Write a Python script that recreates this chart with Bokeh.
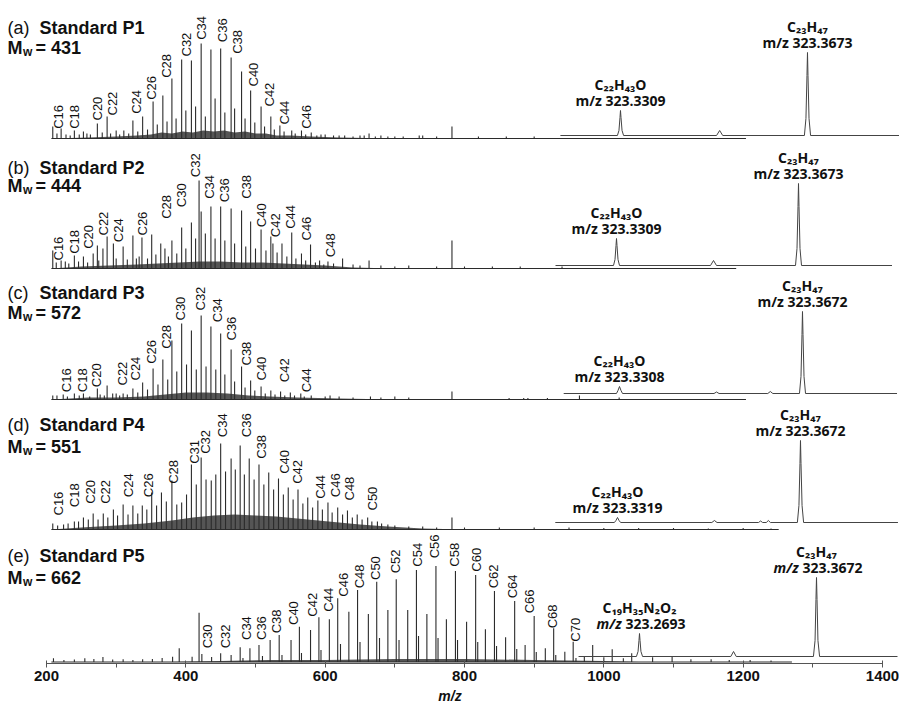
import numpy as np
from bokeh.plotting import figure
from bokeh.models import Range1d, FixedTicker, ColumnDataSource
from bokeh.core.properties import value
from bokeh.embed import file_html
from bokeh.resources import INLINE

# ---------------- data ----------------
panel_letters = ["(a)", "(b)", "(c)", "(d)", "(e)"]
panel_names = ["Standard P1", "Standard P2", "Standard P3", "Standard P4", "Standard P5"]
mw_values = ["431", "444", "572", "551", "662"]

tick_values = [200, 400, 600, 800, 1000, 1200, 1400]
minor_tick_values = [300, 500, 700, 900, 1100, 1300]

# main spectra: m/z and intensity (a.u.)
a_mz = [209, 215, 221, 228, 234, 240, 247, 253, 258, 263,
        273, 280, 287, 292, 300, 305, 311, 318, 324, 331,
        338, 345, 353, 359, 367, 373, 380, 386, 394, 400,
        408, 414, 422, 428, 436, 442, 450, 456, 465, 470,
        480, 485, 493, 499, 508, 513, 522, 527, 535, 541,
        552, 557, 566, 572, 580, 588, 594, 600, 612, 620,
        628, 640, 650, 656, 663, 672, 680, 690, 700, 712,
        735, 740, 760, 782, 820, 860, 900]
a_int = [12, 5, 10, 4, 3, 8, 4, 7, 5, 4,
         15, 6, 22, 5, 8, 4, 8, 5, 18, 7,
         22, 9, 37, 14, 43, 17, 60, 20, 79, 28,
         78, 32, 95, 22, 89, 40, 90, 26, 81, 30,
         67, 20, 48, 16, 32, 12, 22, 9, 13, 7,
         8, 5, 8, 4, 6, 3, 4, 4, 3, 3,
         3, 2, 3, 3, 5, 2, 3, 2, 2, 2,
         3, 3, 2, 12, 2, 2, 2]

b_mz = [209, 214, 221, 227, 232, 240, 246, 253, 259, 267,
        273, 275, 281, 287, 296, 300, 310, 316, 324, 329,
        333, 337, 345, 351, 357, 364, 370, 375, 380, 387,
        394, 400, 408, 414, 419, 422, 428, 436, 442, 450,
        456, 465, 470, 480, 486, 493, 500, 508, 515, 522,
        525, 531, 538, 545, 552, 558, 566, 572, 579, 586,
        592, 598, 604, 612, 625, 640, 650, 663, 680, 700,
        720, 760, 782, 800, 840, 880, 940]
b_int = [18, 6, 8, 7, 5, 13, 7, 12, 6, 15,
         23, 8, 20, 32, 25, 10, 22, 9, 33, 10,
         12, 31, 10, 34, 14, 25, 20, 12, 28, 15,
         41, 20, 46, 30, 88, 57, 35, 62, 30, 62,
         28, 60, 25, 58, 22, 47, 20, 39, 18, 32,
         25, 16, 25, 12, 36, 10, 15, 8, 24, 6,
         8, 4, 7, 5, 10, 4, 3, 8, 3, 2,
         3, 2, 28, 2, 2, 2, 2]

c_mz = [209, 215, 224, 230, 240, 247, 253, 262, 273, 277,
        283, 287, 295, 300, 305, 310, 316, 324, 331, 338,
        345, 353, 360, 367, 374, 380, 387, 394, 401, 408,
        415, 422, 429, 436, 443, 450, 456, 465, 470, 480,
        485, 493, 499, 508, 514, 522, 528, 536, 542, 550,
        556, 565, 570, 580, 600, 607, 620, 640, 665, 680,
        700, 720, 782, 864, 885, 891, 919, 965, 1022]
c_int = [4, 4, 5, 3, 6, 4, 6, 3, 11, 5,
         4, 14, 6, 6, 4, 6, 5, 11, 7, 17,
         10, 31, 15, 40, 20, 59, 28, 76, 35, 69,
         30, 84, 33, 73, 30, 66, 25, 50, 18, 33,
         12, 19, 9, 13, 6, 9, 5, 8, 4, 7,
         4, 6, 3, 4, 3, 4, 3, 2, 3, 2,
         3, 2, 8, 1.5, 1.5, 1.5, 1.5, 4, 2]

d_mz = [209, 216, 224.5, 231, 240, 246, 253, 260, 267, 274,
        281.5, 288, 296, 302, 310, 317, 324, 331, 337.5, 344,
        351, 358, 365, 372, 380, 387, 394, 401, 408, 415,
        422, 429, 436.5, 443, 450, 457, 465, 471, 478, 484,
        491, 498, 505, 512, 519, 526, 533, 540, 547, 554,
        561, 568, 575, 582, 589.5, 596, 604, 610, 618, 625,
        632, 639, 646, 653, 661, 667, 675, 681, 690, 700,
        720, 740, 760, 782, 800, 850, 900, 950, 1000, 1050,
        1100, 1150, 1200, 1240]
d_int = [6, 4, 5, 6, 8, 8, 12, 10, 16, 10,
         16, 12, 20, 14, 25, 15, 24, 16, 24, 20,
         37, 24, 37, 28, 49, 25, 27, 35, 65, 45,
         72, 50, 49, 55, 86, 58, 71, 60, 84, 55,
         71, 50, 65, 45, 57, 40, 51, 35, 42, 30,
         40, 26, 32, 22, 29, 20, 27, 17, 22, 15,
         19, 12, 15, 10, 12, 8, 8, 6, 5, 4,
         3, 3, 2, 12, 2, 2, 2, 2, 1.5, 1.5,
         1.5, 1, 1.5, 1]

e_mz = [210, 225, 240, 255, 268, 281, 295, 310, 324, 338,
        352, 366, 381, 390.5, 409, 419, 423, 437, 450, 465,
        478, 482, 492, 505, 510, 521, 534, 538, 551, 563,
        566, 579, 591, 594, 606, 618, 622, 634, 646.5, 650,
        662, 674, 678, 690, 702, 706, 718.5, 731, 734, 746,
        759, 762, 774, 787, 790, 803, 816, 819, 830, 843,
        846, 859, 872, 875, 887, 900, 903, 916, 928, 931,
        944, 956, 960, 972, 984, 1000, 1012, 1028, 1040, 1070,
        1098, 1125, 1154, 1180, 1210, 1240]
e_int = [3.7, 2, 2.5, 3.7, 3, 5, 2.5, 2.7, 2, 2.7,
         3, 4, 5.3, 13.7, 5.3, 49.3, 8, 5, 8.7, 7,
         14.7, 4, 13.7, 17, 6, 22, 27, 7, 22, 35.3,
         9, 32, 44.7, 12, 42.7, 63.7, 18, 50.3, 72, 20,
         48, 80.3, 24, 52, 82.7, 22, 52, 92, 26, 48,
         96, 24, 42.7, 91, 22, 40.3, 87, 20, 32.7, 71,
         16, 24.7, 61, 13, 17, 46, 10, 13.7, 33.7, 7,
         10.3, 20.3, 4, 5.3, 17, 4.7, 12.7, 3.7, 8.7, 4.7,
         5.3, 2.7, 2.7, 2, 2, 1.5]

# unresolved background (dark fill under the peaks)
a_hump_mz = [207, 260, 300, 330, 350, 365, 380, 395, 410, 425, 440, 455, 470, 485, 500, 515, 530, 550, 580, 620, 700]
a_hump_int = [0, 1, 2, 3, 4, 6, 5, 7, 6, 8, 7, 8, 6, 7, 5, 5, 3, 3, 2, 1, 0]
b_hump_mz = [207, 250, 290, 330, 360, 390, 420, 450, 480, 510, 540, 570, 600, 640, 700]
b_hump_int = [0, 2, 3, 4, 5, 6, 7, 7, 6, 6, 5, 4, 3, 1, 0]
c_hump_mz = [207, 260, 300, 340, 370, 400, 430, 460, 490, 520, 560, 620, 700]
c_hump_int = [0, 2, 2, 3, 5, 7, 7, 6, 4, 3, 2, 1, 0]
d_hump_mz = [207, 250, 300, 340, 380, 410, 440, 470, 500, 530, 560, 590, 620, 650, 690, 740, 800]
d_hump_int = [0, 2, 4, 6, 9, 12, 14, 15, 14, 13, 11, 9, 7, 5, 3, 1, 0]
e_hump_mz = [380, 450, 520, 600, 700, 800, 900, 1000, 1050]
e_hump_int = [0, 1, 2, 2, 3, 3, 2, 1, 0]

# recorded m/z extent of each main trace
spectrum_extent = [(207, 1204), (207, 1190), (207, 1204), (207, 1251), (207, 1270)]

# carbon-number annotations: text, m/z, height above baseline
a_labels = ["C16", "C18", "C20", "C22", "C24", "C26", "C28", "C32", "C34", "C36", "C38", "C40", "C42", "C44", "C46"]
a_label_mz = [217.5, 239.8, 273, 294.8, 329, 350.3, 371.6, 401, 422.3, 453, 474.4, 497.2, 519.5, 541.3, 573]
a_label_h = [9.7, 9.7, 18, 23, 24.7, 38.7, 60.7, 82, 98.7, 96.3, 84.7, 52, 32, 14, 9.7]

b_labels = ["C16", "C18", "C20", "C22", "C24", "C26", "C28", "C30", "C32", "C34", "C36", "C38", "C40", "C42", "C44", "C46", "C48"]
b_label_mz = [217.5, 240.5, 260.2, 282.5, 302.8, 338.4, 371.6, 394.3, 414.2, 434.1, 455.9, 487.7, 508.1, 528.9, 550.8, 573, 607.6]
b_label_h = [8, 14.7, 19.7, 33, 26.3, 33, 49.7, 61.3, 91.3, 69.7, 66.3, 69.7, 41.3, 31.3, 39.7, 28, 11.3]

c_labels = ["C16", "C18", "C20", "C22", "C24", "C26", "C28", "C30", "C32", "C34", "C36", "C38", "C40", "C42", "C44"]
c_label_mz = [229.4, 252.1, 272, 309, 328, 350.3, 371.6, 392.9, 421.4, 445, 465.4, 487.7, 509, 541.3, 573]
c_label_h = [7.3, 7.3, 12.3, 14, 19, 35.7, 50.7, 79, 89, 77.3, 59, 34, 19, 17.3, 7.3]

d_labels = ["C16", "C18", "C20", "C22", "C24", "C26", "C28", "C31", "C32", "C34", "C36", "C38", "C40", "C42", "C44", "C46", "C48", "C50"]
d_label_mz = [217.5, 240.5, 262.6, 285.3, 317, 346.5, 382, 411.9, 428.5, 453.1, 487.7, 509, 541.3, 560.2, 593.4, 614.2, 634.7, 667.8]
d_label_h = [14, 22.3, 25.7, 25.7, 32.3, 32.3, 45.7, 65.7, 75.7, 92.3, 92.3, 70.7, 55.7, 45.7, 30.7, 32.3, 29, 19]

e_labels = ["C30", "C32", "C34", "C36", "C38", "C40", "C42", "C44", "C46", "C48", "C50",
            "C52", "C54", "C56", "C58", "C60", "C62", "C64", "C66", "C68", "C70"]
e_label_mz = [430.8, 456.9, 487.7, 509, 530.3, 554, 582.5, 605.2, 626.6, 648.9, 672.5,
              701, 732.8, 756.4, 786.3, 817.1, 841.7, 868.3, 893.9, 926.2, 959.3]
e_label_h = [13.7, 13.7, 22, 22, 28.7, 37, 45.3, 50.3, 65.3, 73.7, 82,
             88.7, 95.3, 103.7, 95.3, 90.3, 73.7, 63.7, 48.7, 33.7, 20.3]

# high-resolution insets around m/z 323
a_inset_mz = [323.3192, 323.3303, 323.3306, 323.3308, 323.3309, 323.3310, 323.3312, 323.3315, 323.3496, 323.3502,
              323.3508, 323.3667, 323.3670, 323.3672, 323.3673, 323.3674, 323.3676, 323.3679, 323.3855]
a_inset_int = [0, 0, 5, 18, 25, 18, 5, 0, 0, 5, 0, 0, 17, 60, 83, 60, 17, 0, 0]
b_inset_mz = [323.3187, 323.3303, 323.3306, 323.3308, 323.3309, 323.3310, 323.3312, 323.3315, 323.3497, 323.3503,
              323.3509, 323.3667, 323.3670, 323.3672, 323.3673, 323.3674, 323.3676, 323.3679, 323.3860]
b_inset_int = [0, 0, 6, 20, 27, 20, 6, 0, 0, 5, 0, 0, 17, 59, 82, 59, 17, 0, 0]
c_inset_mz = [323.3197, 323.3302, 323.3305, 323.3308, 323.3311, 323.3314, 323.3496, 323.3501, 323.3506, 323.3603,
              323.3608, 323.3613, 323.3666, 323.3669, 323.3671, 323.3672, 323.3673, 323.3675, 323.3678, 323.3860]
c_inset_int = [0, 0, 3, 7, 3, 0, 0, 1.5, 0, 0, 2, 0, 0, 17, 59, 82, 59, 17, 0, 0]
d_inset_mz = [323.3199, 323.3313, 323.3316, 323.3319, 323.3322, 323.3325, 323.3501, 323.3506, 323.3511, 323.3591,
              323.3595, 323.3599, 323.3606, 323.3610, 323.3614, 323.3666, 323.3669, 323.3671, 323.3672, 323.3673,
              323.3675, 323.3678, 323.3860]
d_inset_int = [0, 0, 2, 5, 2, 0, 0, 2, 0, 0, 1.5, 0, 0, 2, 0, 0, 17, 59, 82, 59, 17, 0, 0]
e_inset_mz = [323.2356, 323.2676, 323.2685, 323.2690, 323.2693, 323.2696, 323.2701, 323.2710, 323.3198, 323.3213,
              323.3228, 323.3655, 323.3664, 323.3669, 323.3672, 323.3675, 323.3680, 323.3689, 323.4120]
e_inset_int = [0, 0, 5, 16, 23, 16, 5, 0, 0, 5, 0, 0, 16, 57, 79, 57, 16, 0, 0]

inset_major_formula = ["C₂₃H₄₇"] * 5
inset_major_mz = [323.3673, 323.3673, 323.3672, 323.3672, 323.3672]
inset_minor_formula = ["C₂₂H₄₃O", "C₂₂H₄₃O", "C₂₂H₄₃O", "C₂₂H₄₃O", "C₁₉H₃₅N₂O₂"]
inset_minor_mz = [323.3309, 323.3309, 323.3308, 323.3319, 323.2693]

spectra = [(a_mz, a_int), (b_mz, b_int), (c_mz, c_int), (d_mz, d_int), (e_mz, e_int)]
humps = [(a_hump_mz, a_hump_int), (b_hump_mz, b_hump_int), (c_hump_mz, c_hump_int),
         (d_hump_mz, d_hump_int), (e_hump_mz, e_hump_int)]
labels = [(a_labels, a_label_mz, a_label_h), (b_labels, b_label_mz, b_label_h),
          (c_labels, c_label_mz, c_label_h), (d_labels, d_label_mz, d_label_h),
          (e_labels, e_label_mz, e_label_h)]
insets = [(a_inset_mz, a_inset_int), (b_inset_mz, b_inset_int), (c_inset_mz, c_inset_int),
          (d_inset_mz, d_inset_int), (e_inset_mz, e_inset_int)]

# ---------------- layout ----------------
X_START, X_END = 133.97, 1424.40
Y_TOP = 663
MAIN_BASE = [525, 395, 264, 134, 1.5]
INSET_BASE = [528, 398, 270, 141, 7]
INSET_RANGES = [(323.210207, 323.385212), (323.2077, 323.3875), (323.207677, 323.386494),
                (323.212880, 323.386298), (322.915871, 323.413105)]
TITLE_Y = [636, 496, 371, 239, 108]
MW_Y = [616, 478, 351, 217, 86]

SPEC = "#2b2b2b"
TXT = "#111111"
SANS = "Liberation Sans"
NARROW = "Liberation Sans Narrow, Arial Narrow, Liberation Sans"
INSET_FONT = "Open Sans"

p = figure(width=899, height=712, x_range=Range1d(X_START, X_END), y_range=Range1d(0, Y_TOP),
           output_backend="svg", toolbar_location=None, y_axis_location=None,
           min_border_left=0, min_border_right=0, min_border_top=0, min_border_bottom=49)
p.grid.visible = False
p.outline_line_color = None
p.background_fill_color = "white"
p.extra_x_ranges = {f"inset{k}": Range1d(*INSET_RANGES[k]) for k in range(5)}

ax = p.xaxis[0]
ax.bounds = (200, 1400)
ax.ticker = FixedTicker(ticks=tick_values, minor_ticks=minor_tick_values)
ax.axis_label = "m/z"
ax.axis_label_text_font = SANS
ax.axis_label_text_font_style = "bold italic"
ax.axis_label_text_font_size = "14px"
ax.axis_label_text_color = TXT
ax.axis_label_standoff = 4
ax.major_label_text_font = SANS
ax.major_label_text_font_style = "bold"
ax.major_label_text_font_size = "15px"
ax.major_label_text_color = TXT
ax.major_label_standoff = 3
ax.major_tick_in = 3
ax.major_tick_out = 4
ax.minor_tick_in = 0
ax.minor_tick_out = 4
ax.axis_line_color = "#555555"
ax.major_tick_line_color = "#555555"
ax.minor_tick_line_color = "#555555"

for k in range(5):
    base = MAIN_BASE[k]
    # background hump
    hx, hy = humps[k]
    p.varea(x=hx, y1=[base] * len(hx), y2=[base + v for v in hy], fill_color=SPEC, fill_alpha=0.8)
    # baseline of the trace
    x0, x1 = spectrum_extent[k]
    p.line(x=[x0, x1], y=[base, base], line_color=SPEC, line_width=1)
    # peaks
    mz, it = spectra[k]
    src = ColumnDataSource(dict(x=mz, y0=[base] * len(mz), y1=[base + v for v in it]))
    p.segment(x0="x", y0="y0", x1="x", y1="y1", source=src, line_color=SPEC, line_width=1.1)
    # carbon-number labels
    lt, lx, lh = labels[k]
    p.text(x=lx, y=[base + h for h in lh], text=lt, angle=np.pi / 2,
           text_align="left", text_baseline="middle", text_font=value(NARROW),
           text_font_size="13px", text_color=TXT)
    # inset trace
    rn = f"inset{k}"
    ib = INSET_BASE[k]
    imz, iint = insets[k]
    p.line(x=imz, y=[ib + v for v in iint], x_range_name=rn, line_color="#444444", line_width=1)
    for pmz, form in ((inset_major_mz[k], inset_major_formula[k]), (inset_minor_mz[k], inset_minor_formula[k])):
        top = ib + float(np.interp(pmz, imz, iint))
        p.text(x=[pmz], y=[top + 26], text=[form], x_range_name=rn, text_align="center",
               text_baseline="middle", text_font=value(INSET_FONT), text_font_style="bold",
               text_font_size="14px", text_color=TXT)
        num = f"{pmz:.4f}"
        if k < 4:
            p.text(x=[pmz], y=[top + 10], text=["m/z " + num], x_range_name=rn, text_align="center",
                   text_baseline="middle", text_font=value(INSET_FONT), text_font_style="bold",
                   text_font_size="14px", text_color=TXT)
        else:
            p.text(x=[pmz], y=[top + 10], text=["m/z"], x_range_name=rn, text_align="right",
                   x_offset=-18, text_baseline="middle", text_font=value(INSET_FONT),
                   text_font_style="bold italic", text_font_size="14px", text_color=TXT)
            p.text(x=[pmz], y=[top + 10], text=[num], x_range_name=rn, text_align="left",
                   x_offset=-14, text_baseline="middle", text_font=value(INSET_FONT),
                   text_font_style="bold", text_font_size="14px", text_color=TXT)
    # panel titles
    p.text(x=[X_START], y=[TITLE_Y[k]], text=[panel_letters[k]], x_offset=7, text_align="left",
           text_baseline="alphabetic", text_font=value(SANS), text_font_size="18px", text_color=TXT)
    p.text(x=[X_START], y=[TITLE_Y[k]], text=[panel_names[k]], x_offset=39, text_align="left",
           text_baseline="alphabetic", text_font=value(SANS), text_font_style="bold",
           text_font_size="18px", text_color=TXT)
    p.text(x=[X_START], y=[MW_Y[k]], text=["M"], x_offset=7, text_align="left", text_baseline="alphabetic",
           text_font=value(SANS), text_font_style="bold", text_font_size="18px", text_color=TXT)
    p.text(x=[X_START], y=[MW_Y[k] - 4], text=["w"], x_offset=22.5, text_align="left",
           text_baseline="alphabetic", text_font=value(SANS), text_font_style="bold",
           text_font_size="12px", text_color=TXT)
    p.text(x=[X_START], y=[MW_Y[k]], text=["= " + mw_values[k]], x_offset=35, text_align="left",
           text_baseline="alphabetic", text_font=value(SANS), text_font_style="bold",
           text_font_size="18px", text_color=TXT)

open("out.html", "w").write(file_html(p, INLINE))
